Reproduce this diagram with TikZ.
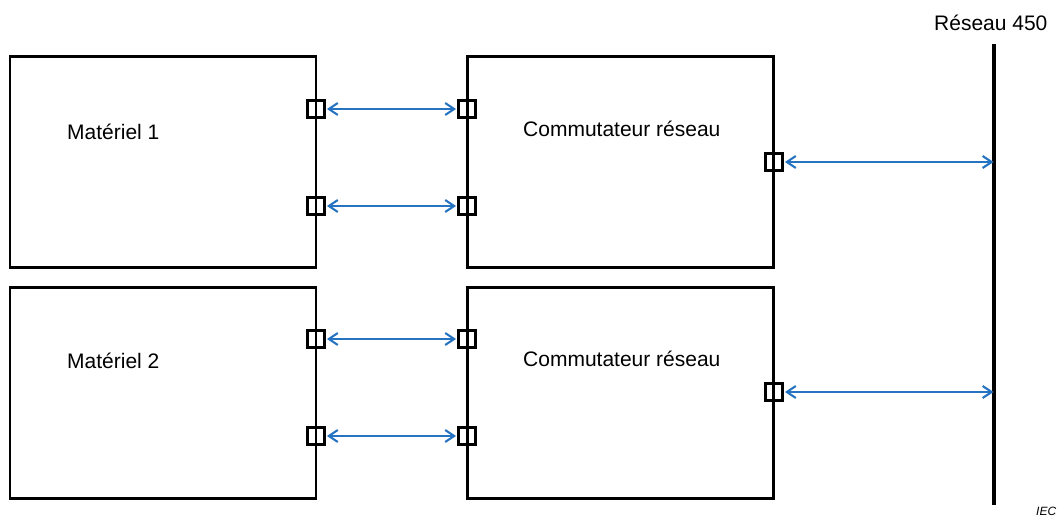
\documentclass[tikz,border=0pt]{standalone}
\usepackage{fontspec}
\setmainfont{Liberation Sans}
\usepackage{tikz}
\usetikzlibrary{arrows.meta}
\definecolor{linkblue}{RGB}{38,116,193}
\tikzset{
  % node options
  device/.style={rectangle,draw,line width=2.8pt,minimum width=306pt,minimum height=211pt,inner sep=0pt},
  port/.style={rectangle,draw,line width=3.3pt,minimum size=17.5pt,inner sep=0pt},
  caption/.style={anchor=base west,inner sep=0pt,font=\fontsize{21}{25}\selectfont},
  % path options
  link/.style={{Straight Barb[length=9pt,width=12pt]}-{Straight Barb[length=9pt,width=12pt]},line width=2.1pt,draw=linkblue,shorten <=0.5pt,shorten >=0.5pt},
  bus/.style={line width=3.6pt},
}
\begin{document}
\begin{tikzpicture}[x=1pt,y=-1pt]
      \useasboundingbox (0,0) rectangle (1063,517);
      \node[device] (mat1) at (163,162) {};
      \node[device] (sw1) at (620.5,162) {};
      \node[device] (mat2) at (163,393) {};
      \node[device] (sw2) at (620.5,393) {};
      \node[caption] (mat1label) at (67,139) {Matériel 1};
      \node[caption] (sw1label) at (523,136) {Commutateur réseau};
      \node[caption] (mat2label) at (67,368) {Matériel 2};
      \node[caption] (sw2label) at (523,366) {Commutateur réseau};
      % ports
      \node[port] (mat1a) at (316,109) {};
      \node[port] (mat1b) at (316,206) {};
      \node[port] (sw1a) at (467,109) {};
      \node[port] (sw1b) at (467,206) {};
      \node[port] (sw1net) at (774,162) {};
      \node[port] (mat2a) at (316,339) {};
      \node[port] (mat2b) at (316,436) {};
      \node[port] (sw2a) at (467,339) {};
      \node[port] (sw2b) at (467,436) {};
      \node[port] (sw2net) at (774,392) {};
      % network
      \coordinate (nettop) at (994,44);
      \coordinate (netbot) at (994,505);
      \coordinate (net1) at (994,162);
      \coordinate (net2) at (994,392);
      \draw[bus] (nettop) -- (netbot);
      \node[caption] (netlabel) at (934,30) {Réseau 450};
      \node[anchor=base west,inner sep=0pt,font=\fontsize{12}{14}\selectfont\itshape] (iec) at (1036,515.5) {IEC};
      \draw[link] (mat1a) -- (sw1a);
      \draw[link] (mat1b) -- (sw1b);
      \draw[link] (mat2a) -- (sw2a);
      \draw[link] (mat2b) -- (sw2b);
      \draw[link] (sw1net) -- (net1);
      \draw[link] (sw2net) -- (net2);
    \end{tikzpicture}
\end{document}
